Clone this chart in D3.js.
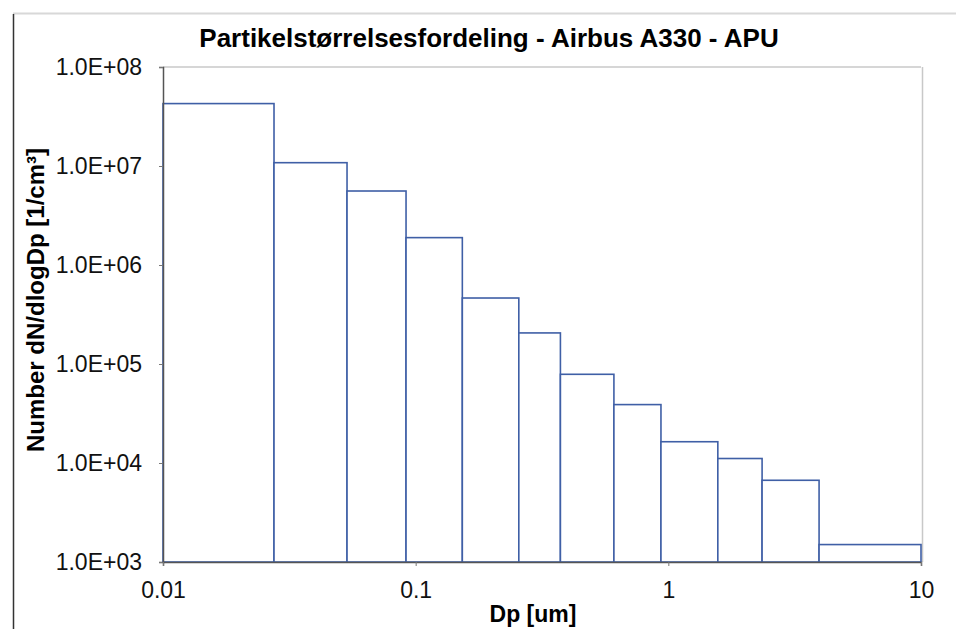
<!DOCTYPE html>
<html>
<head>
<meta charset="utf-8">
<script src="https://cdn.jsdelivr.net/npm/d3@7"></script>
<style>
  body { margin: 0; background: #fff; }
  svg { display: block; font-family: "Liberation Sans", Arial, sans-serif; }
</style>
</head>
<body>
<svg id="chart" width="956" height="629"></svg>
<script>
// bin edges (Dp, um) and dN/dlogDp values
var binEdges = [0.01, 0.0275, 0.0535, 0.0916, 0.153, 0.256, 0.374, 0.609, 0.935, 1.57, 2.35, 3.95, 10];
var binValues = [4.27e7, 1.08e7, 5.59e6, 1.89e6, 4.64e5, 2.06e5, 7.87e4, 3.89e4, 1.64e4, 1.11e4, 6.69e3, 1.50e3];
var yTicks = [1e3, 1e4, 1e5, 1e6, 1e7, 1e8];
var xTicks = [0.01, 0.1, 1, 10];

var svg = d3.select("#chart");

var margin = {left: 163, right: 35, top: 67, bottom: 67},
    width = 956 - margin.left - margin.right,
    height = 629 - margin.top - margin.bottom;

// outer chart frame
svg.append("line").attr("x1", 13).attr("x2", 956).attr("y1", 13.5).attr("y2", 13.5)
   .attr("stroke", "#d8d8d8").attr("stroke-width", 2);
svg.append("line").attr("x1", 13.5).attr("x2", 13.5).attr("y1", 14).attr("y2", 629)
   .attr("stroke", "#333").attr("stroke-width", 1.5);

var x = d3.scaleLog().domain([0.01, 10]).range([0, width]);
var y = d3.scaleLog().domain([1e3, 1e8]).range([height, 0]);

var g = svg.append("g").attr("transform", "translate(" + margin.left + "," + margin.top + ")");

// plot area border (top + right)
g.append("line").attr("x1", 0).attr("x2", width).attr("y1", 0).attr("y2", 0)
  .attr("stroke", "#c8c8c8").attr("stroke-width", 1.5);
g.append("line").attr("x1", width + 1.5).attr("x2", width + 1.5).attr("y1", 0).attr("y2", height)
  .attr("stroke", "#c8c8c8").attr("stroke-width", 1.5);

var bins = binValues.map(function(v, i) {
  return {x0: binEdges[i], x1: binEdges[i + 1], value: v};
});

g.selectAll("rect.bar")
  .data(bins)
  .enter().append("rect")
  .attr("class", "bar")
  .attr("x", function(d) { return x(d.x0); })
  .attr("width", function(d) { return x(d.x1) - x(d.x0); })
  .attr("y", function(d) { return y(d.value); })
  .attr("height", function(d) { return height - y(d.value); })
  .attr("fill", "#fff")
  .attr("stroke", "#3f5fa6")
  .attr("stroke-width", 1.6);

var yAxis = d3.axisLeft(y).tickValues(yTicks).tickSize(4).tickPadding(17)
  .tickFormat(function(d) { return "1.0E+" + d3.format("02d")(Math.round(Math.log10(d))); });
var xAxis = d3.axisBottom(x).tickValues(xTicks).tickSize(4).tickPadding(16)
  .tickFormat(function(d) { return String(d); });

var ya = g.append("g").call(yAxis);
var xa = g.append("g").attr("transform", "translate(0," + height + ")").call(xAxis);

[ya, xa].forEach(function(a) {
  a.select(".domain").attr("stroke", "#555").attr("stroke-width", 1.5);
  a.selectAll(".tick line").attr("stroke", "#777");
  a.selectAll(".tick text").attr("fill", "#111").style("font-size", "23px");
});

// titles
svg.append("text").attr("x", 489).attr("y", 47).attr("text-anchor", "middle")
  .style("font-size", "26px").style("font-weight", "bold").text("Partikelstørrelsesfordeling - Airbus A330 - APU");

svg.append("text").attr("x", 533).attr("y", 622).attr("text-anchor", "middle")
  .style("font-size", "23px").style("font-weight", "bold").text("Dp [um]");

svg.append("text").attr("transform", "translate(44,300) rotate(-90)").attr("text-anchor", "middle")
  .style("font-size", "24px").style("font-weight", "bold").text("Number dN/dlogDp [1/cm³]");
</script>
</body>
</html>
